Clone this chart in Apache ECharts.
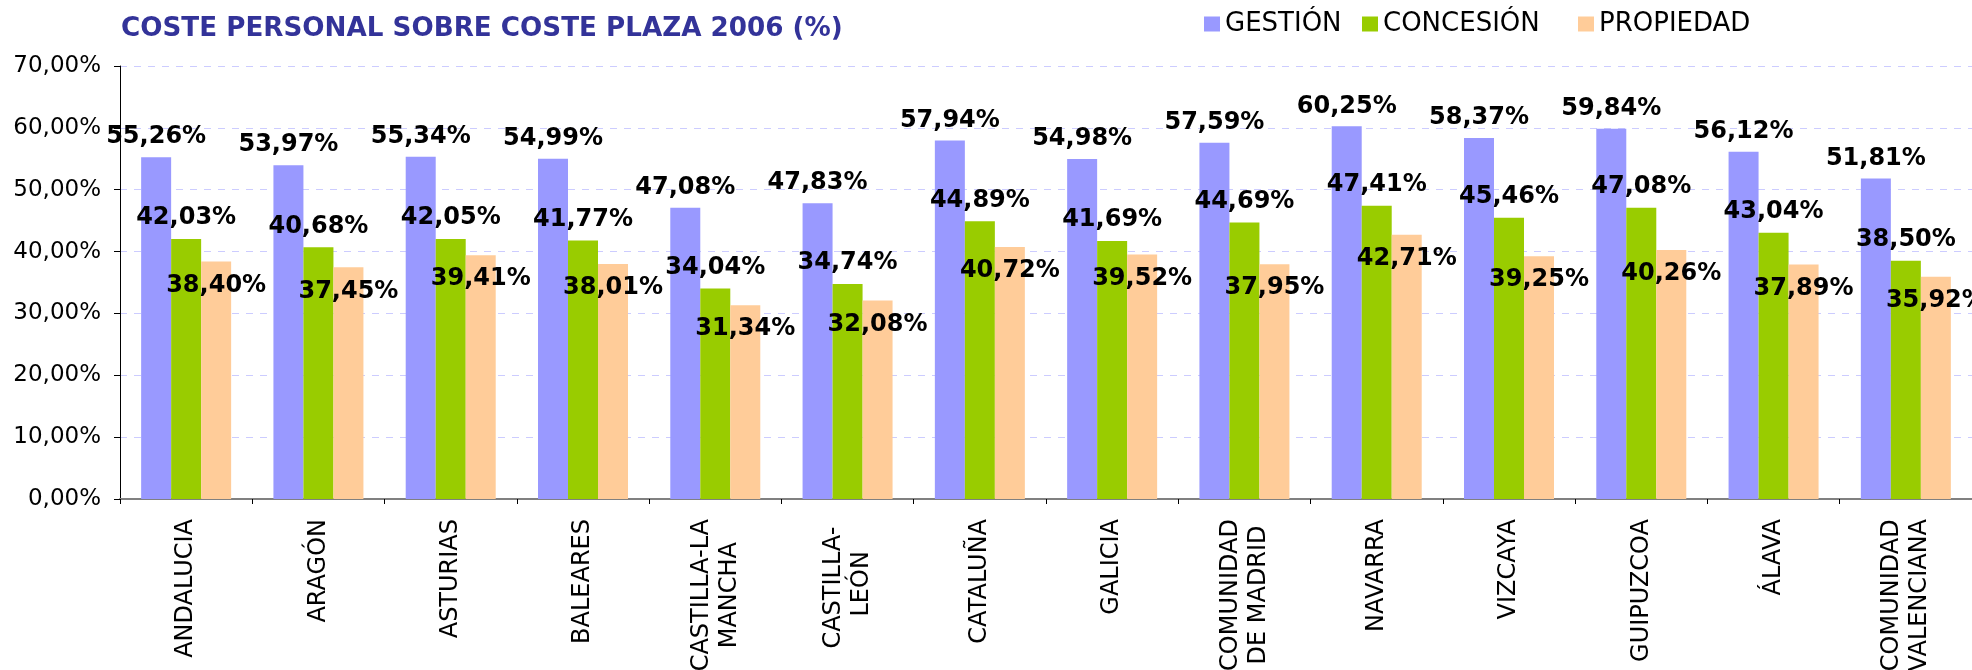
<!DOCTYPE html>
<html>
<head>
<meta charset="utf-8">
<script src="https://cdn.jsdelivr.net/npm/echarts@6/dist/echarts.min.js"></script>
<style>
  html, body { margin: 0; padding: 0; background: #ffffff; overflow: hidden; width: 1972px; height: 670px; }
  #chart { width: 1972px; height: 670px; }
</style>
</head>
<body>
<div id="chart"></div>
<script>
// Regions (two-line names keep their line break)
const regions = [
  'ANDALUCIA', 'ARAGÓN', 'ASTURIAS', 'BALEARES', 'CASTILLA-LA\nMANCHA',
  'CASTILLA- \nLEÓN', 'CATALUÑA', 'GALICIA', 'COMUNIDAD\nDE MADRID', 'NAVARRA',
  'VIZCAYA', 'GUIPUZCOA', 'ÁLAVA', 'COMUNIDAD\nVALENCIANA'
];

// Staff cost as a share of place cost, 2006 (%)
const gestion   = [55.26, 53.97, 55.34, 54.99, 47.08, 47.83, 57.94, 54.98, 57.59, 60.25, 58.37, 59.84, 56.12, 51.81];
const concesion = [42.03, 40.68, 42.05, 41.77, 34.04, 34.74, 44.89, 41.69, 44.69, 47.41, 45.46, 47.08, 43.04, 38.50];
const propiedad = [38.40, 37.45, 39.41, 38.01, 31.34, 32.08, 40.72, 39.52, 37.95, 42.71, 39.25, 40.26, 37.89, 35.92];

const seriesNames = ['GESTIÓN', 'CONCESIÓN', 'PROPIEDAD'];
const seriesColors = ['#9999ff', '#99cc00', '#ffcc99'];
const yTicks = { min: 0, max: 70, step: 10 };

const FONT = 'DejaVu Sans';
const pct = v => v.toFixed(2).replace('.', ',') + '%';

const chart = echarts.init(document.getElementById('chart'), null, { renderer: 'canvas', width: 1972, height: 670 });

const labelBase = {
  show: true,
  fontFamily: FONT,
  fontSize: 24,
  fontWeight: 'bold',
  color: '#000000',
  formatter: p => pct(p.value)
};

// one legend block per series, each starting at its own x
const legendLefts = [1199, 1357, 1573];
const legends = seriesNames.map((n, i) => ({
  data: [n],
  left: legendLefts[i],
  top: 6,
  itemWidth: 16,
  itemHeight: 15,
  icon: 'rect',
  textStyle: { fontFamily: FONT, fontSize: 26, color: '#000000' }
}));

chart.setOption({
  animation: false,
  backgroundColor: '#ffffff',
  title: {
    text: 'COSTE PERSONAL SOBRE COSTE PLAZA 2006 (%)',
    left: 116,
    top: 11,
    textStyle: { fontFamily: FONT, fontSize: 26.2, fontWeight: 'bold', color: '#333399' }
  },
  legend: legends,
  grid: { left: 120, right: 0, top: 66, bottom: 171, containLabel: false, outerBoundsMode: 'none' },
  xAxis: {
    type: 'category',
    data: regions,
    axisLine: { lineStyle: { color: '#808080', width: 2 } },
    axisTick: { show: true, length: 5, lineStyle: { color: '#000000', width: 1 } },
    axisLabel: {
      interval: 0,
      rotate: 90,
      margin: 20,
      fontFamily: FONT,
      fontSize: 24,
      color: '#000000',
      formatter: v => v.split('\n').map(s => '{c|' + s + '}').join('\n'),
      rich: { c: { align: 'center', fontFamily: FONT, fontSize: 24, lineHeight: 28, color: '#000000' } }
    }
  },
  yAxis: {
    type: 'value',
    min: yTicks.min,
    max: yTicks.max,
    interval: yTicks.step,
    axisLine: { show: true, lineStyle: { color: '#000000', width: 1 } },
    axisTick: { show: true, length: 6, lineStyle: { color: '#000000' } },
    axisLabel: {
      margin: 19,
      fontFamily: FONT,
      fontSize: 23,
      color: '#000000',
      formatter: v => pct(v)
    },
    splitLine: { show: true, lineStyle: { color: '#ccccff', type: [7, 7], width: 1 } }
  },
  series: [
    {
      name: seriesNames[0], type: 'bar', data: gestion, barWidth: 30, barGap: '0%',
      itemStyle: { color: seriesColors[0] },
      label: Object.assign({}, labelBase, { position: 'top', distance: 8 })
    },
    {
      name: seriesNames[1], type: 'bar', data: concesion, barWidth: 30, barGap: '0%',
      itemStyle: { color: seriesColors[1] },
      label: Object.assign({}, labelBase, { position: 'top', distance: 9 })
    },
    {
      name: seriesNames[2], type: 'bar', data: propiedad, barWidth: 30, barGap: '0%',
      itemStyle: { color: seriesColors[2] },
      label: Object.assign({}, labelBase, { position: 'insideTop', distance: 12 })
    }
  ]
});
</script>
</body>
</html>
